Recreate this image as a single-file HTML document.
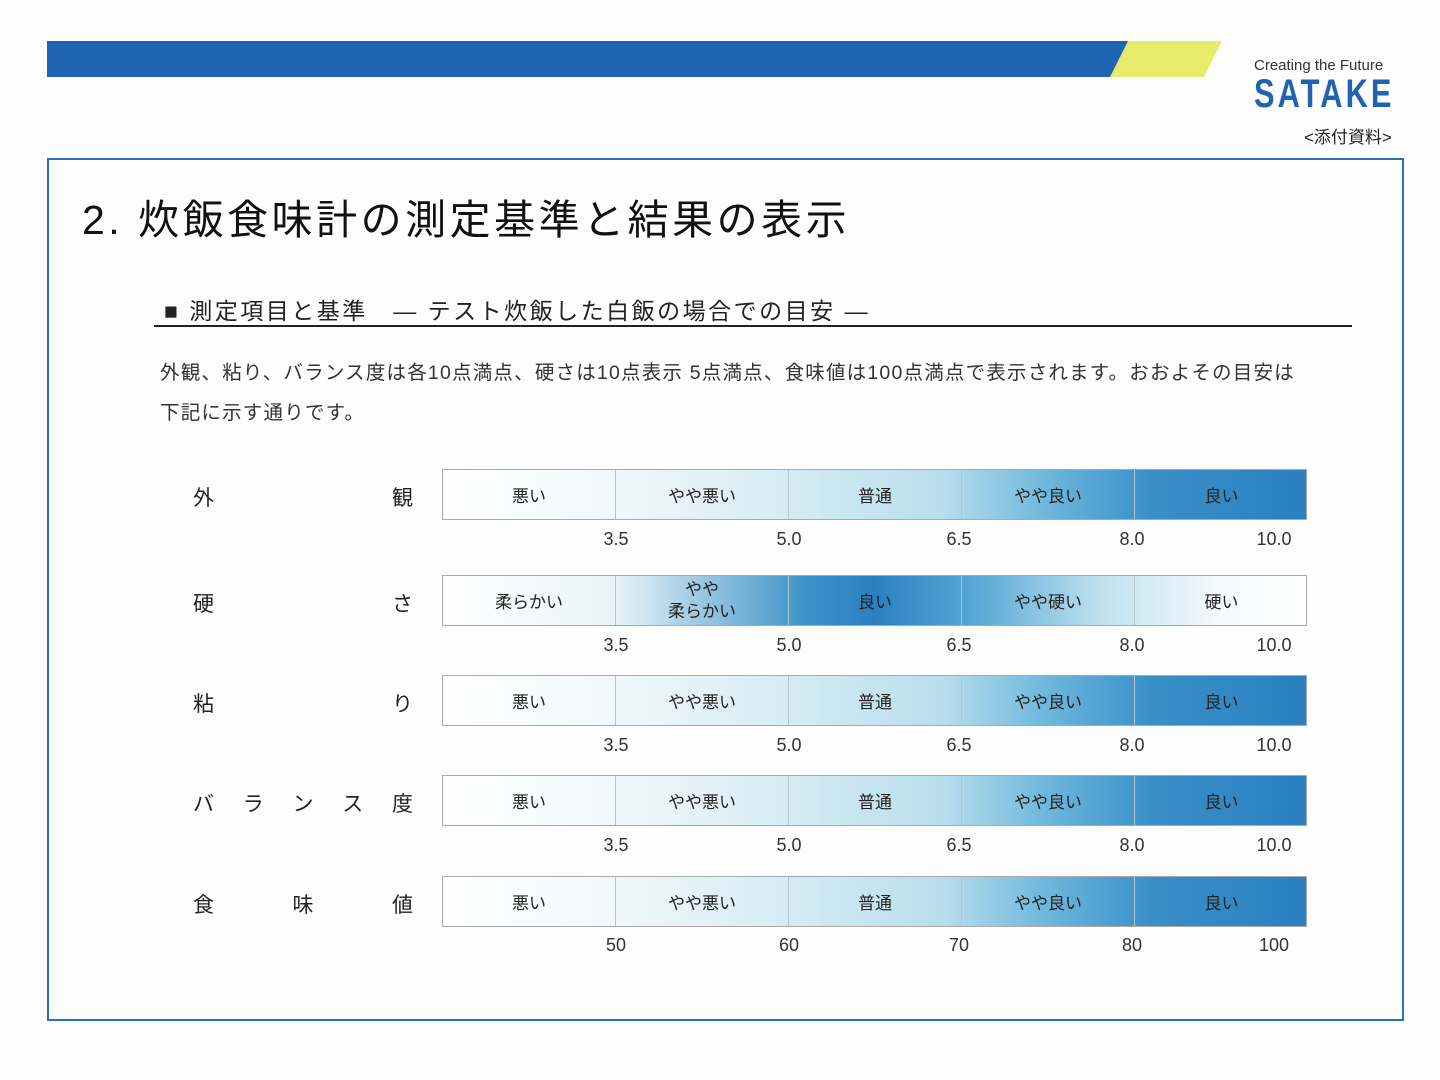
<!DOCTYPE html><html><head><meta charset="utf-8"><style>
body{margin:0;width:1440px;height:1080px;background:#fdfdfd;position:relative;overflow:hidden;font-family:"Liberation Sans","Noto Sans CJK JP",sans-serif;color:#222}
.a{position:absolute}
.bar{position:absolute;left:442px;width:865px;height:51px;border:1px solid #aaa;box-sizing:border-box}
.seg{position:absolute;top:0;height:100%;width:173px;border-right:1px solid #b5c5cc;box-sizing:border-box;display:flex;align-items:center;justify-content:center;font-size:17px;text-align:center;line-height:22px;padding-top:5px}
.tk{position:absolute;font-size:18px;color:#333;width:60px;text-align:center}
.lb{position:absolute;font-size:21px;left:193px;width:220px;display:flex;justify-content:space-between}
.g1{background:linear-gradient(90deg,#fff 0%,#f2f9fb 18%,#d8edf4 38%,#b8deec 58%,#6db7dc 70%,#3a8fc8 82%,#2a80c0 100%)}
.g2{background:linear-gradient(90deg,#fff 0%,#e8f4f8 20%,#3c92c9 42%,#2b80c0 50%,#5aa9d6 62%,#bde0ed 76%,#f5fafc 90%,#fff 100%)}
</style></head><body>
<div class="a" style="left:47px;top:41px;width:1081px;height:36px;background:#1f64b0"></div>
<div class="a" style="left:1110px;top:41px;width:112px;height:36px;background:#e6ec6a;clip-path:polygon(18px 0,100% 0,94px 100%,0 100%)"></div>
<div class="a" style="left:1254px;top:57px;font-size:15px;color:#333">Creating the Future</div>
<div class="a" style="left:1254px;top:72px;font-size:40px;font-weight:bold;color:#1f64b0;letter-spacing:4px;transform:scaleX(0.77);transform-origin:left">SATAKE</div>
<div class="a" style="left:1304px;top:123px;font-size:17px">&lt;添付資料&gt;</div>
<div class="a" style="left:47px;top:158px;width:1357px;height:863px;border:2px solid #2a6fb8;box-sizing:border-box"></div>
<div class="a" style="left:82px;top:186px;font-size:41px;color:#111;letter-spacing:3.5px">2. 炊飯食味計の測定基準と結果の表示</div>
<div class="a" style="left:164px;top:292px;font-size:23px;letter-spacing:2.5px">■ 測定項目と基準　— テスト炊飯した白飯の場合での目安 —</div>
<div class="a" style="left:154px;top:325px;width:1198px;height:2px;background:#222"></div>
<div class="a" style="left:160px;top:353px;font-size:19.5px;line-height:40px;color:#333;letter-spacing:1.2px">外観、粘り、バランス度は各10点満点、硬さは10点表示 5点満点、食味値は100点満点で表示されます。おおよその目安は<br>下記に示す通りです。</div>

<div class="lb" style="top:482px"><span>外</span><span>観</span></div>
<div class="bar g1" style="top:469px"><div class="seg" style="left:0">悪い</div><div class="seg" style="left:173px">やや悪い</div><div class="seg" style="left:346px">普通</div><div class="seg" style="left:519px">やや良い</div><div class="seg" style="left:692px;border:0">良い</div></div>
<div class="tk" style="left:586px;top:529px">3.5</div><div class="tk" style="left:759px;top:529px">5.0</div><div class="tk" style="left:929px;top:529px">6.5</div><div class="tk" style="left:1102px;top:529px">8.0</div><div class="tk" style="left:1244px;top:529px">10.0</div>

<div class="lb" style="top:588px"><span>硬</span><span>さ</span></div>
<div class="bar g2" style="top:575px"><div class="seg" style="left:0">柔らかい</div><div class="seg" style="left:173px;padding-top:0">やや<br>柔らかい</div><div class="seg" style="left:346px">良い</div><div class="seg" style="left:519px">やや硬い</div><div class="seg" style="left:692px;border:0">硬い</div></div>
<div class="tk" style="left:586px;top:635px">3.5</div><div class="tk" style="left:759px;top:635px">5.0</div><div class="tk" style="left:929px;top:635px">6.5</div><div class="tk" style="left:1102px;top:635px">8.0</div><div class="tk" style="left:1244px;top:635px">10.0</div>

<div class="lb" style="top:688px"><span>粘</span><span>り</span></div>
<div class="bar g1" style="top:675px"><div class="seg" style="left:0">悪い</div><div class="seg" style="left:173px">やや悪い</div><div class="seg" style="left:346px">普通</div><div class="seg" style="left:519px">やや良い</div><div class="seg" style="left:692px;border:0">良い</div></div>
<div class="tk" style="left:586px;top:735px">3.5</div><div class="tk" style="left:759px;top:735px">5.0</div><div class="tk" style="left:929px;top:735px">6.5</div><div class="tk" style="left:1102px;top:735px">8.0</div><div class="tk" style="left:1244px;top:735px">10.0</div>

<div class="lb" style="top:788px"><span>バ</span><span>ラ</span><span>ン</span><span>ス</span><span>度</span></div>
<div class="bar g1" style="top:775px"><div class="seg" style="left:0">悪い</div><div class="seg" style="left:173px">やや悪い</div><div class="seg" style="left:346px">普通</div><div class="seg" style="left:519px">やや良い</div><div class="seg" style="left:692px;border:0">良い</div></div>
<div class="tk" style="left:586px;top:835px">3.5</div><div class="tk" style="left:759px;top:835px">5.0</div><div class="tk" style="left:929px;top:835px">6.5</div><div class="tk" style="left:1102px;top:835px">8.0</div><div class="tk" style="left:1244px;top:835px">10.0</div>

<div class="lb" style="top:889px"><span>食</span><span>味</span><span>値</span></div>
<div class="bar g1" style="top:876px"><div class="seg" style="left:0">悪い</div><div class="seg" style="left:173px">やや悪い</div><div class="seg" style="left:346px">普通</div><div class="seg" style="left:519px">やや良い</div><div class="seg" style="left:692px;border:0">良い</div></div>
<div class="tk" style="left:586px;top:935px">50</div><div class="tk" style="left:759px;top:935px">60</div><div class="tk" style="left:929px;top:935px">70</div><div class="tk" style="left:1102px;top:935px">80</div><div class="tk" style="left:1244px;top:935px">100</div>
</body></html>
